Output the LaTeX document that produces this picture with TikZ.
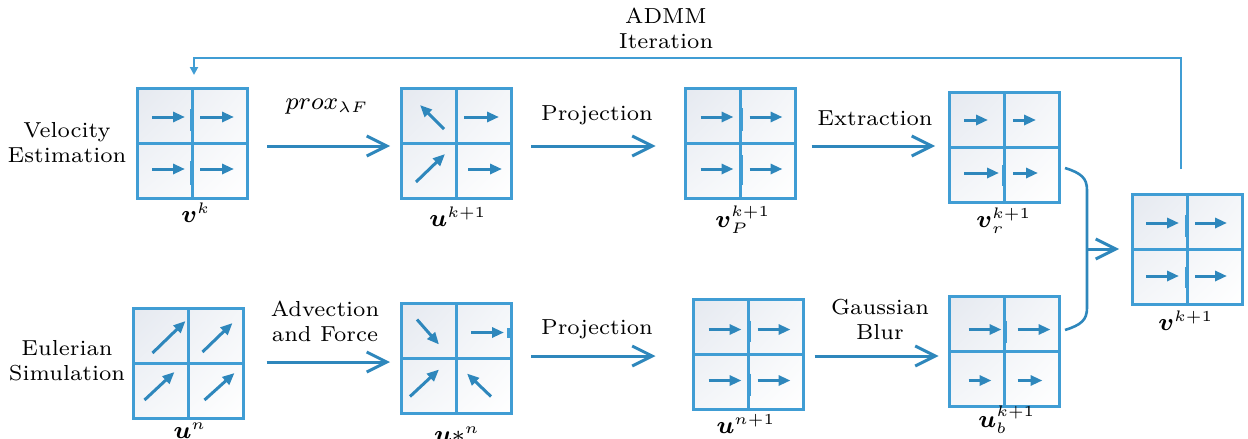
\documentclass[tikz,border=0pt]{standalone}
\usepackage{amsmath}
\usepackage{graphicx}
\usetikzlibrary{arrows.meta,shadings}
\DeclareMathSizes{8}{8}{3.8}{3.8}
\definecolor{boxblue}{RGB}{64,157,212}
\definecolor{arrblue}{RGB}{46,135,188}
\definecolor{cellgray}{RGB}{229,233,240}
\definecolor{cellmid}{RGB}{244,246,249}
\tikzset{
  gbox/.style={draw=boxblue, line width=3pt, minimum width=110pt, minimum height=110pt,
    inner sep=0pt, outer sep=0pt, upper left=cellgray, upper right=cellmid,
    lower left=cellmid, lower right=white},
  crossline/.style={draw=boxblue, line width=3pt},
  thickbar/.style={draw=boxblue, line width=4pt},
  cellarr/.style={draw=arrblue, line width=3pt, -{Triangle[length=12pt,width=10pt]}},
  mainarr/.style={draw=arrblue, line width=3pt, -{Straight Barb[length=20pt,width=20pt]}},
  bracketline/.style={draw=arrblue, line width=2.6pt},
  loopline/.style={draw=boxblue, line width=2pt, -{Triangle[length=8pt,width=8pt]}},
  lbl/.style={inner sep=0pt, outer sep=0pt},
  mlbl/.style={inner sep=0pt, outer sep=0pt, anchor=base},
}
\newcommand\T[1]{\scalebox{3.1}{\fontsize{7}{8.1}\selectfont\begin{tabular}{@{}c@{}}#1\end{tabular}}}
\newcommand\M[1]{\scalebox{3.05}{\fontsize{8}{10}\selectfont$#1$}}
\newcommand\gridnode[3]{%
  \node[gbox] (#1) at (#2,#3) {};
  \draw[crossline] (#1.north) -- (#1.south) (#1.west) -- (#1.east);}
\newcommand\carr[5]{\draw[cellarr] ([shift={(#2,#3)}]#1.center) -- ([shift={(#4,#5)}]#1.center);}
\newcommand\cbar[4]{\draw[thickbar] ([shift={(#2,#3)}]#1.center) -- ([shift={(#2,#4)}]#1.center);}
\begin{document}
\begin{tikzpicture}[x=1pt,y=-1pt]
\useasboundingbox (0,0) rectangle (1248,439);

% ---------- grids ----------
\gridnode{vk}{192}{143}
\gridnode{uk}{456}{143}
\gridnode{vp}{740.5}{143}
\gridnode{vr}{1004}{147}
\gridnode{vn}{1187}{249}
\gridnode{un}{188.5}{363}
\gridnode{us}{456}{358.5}
\gridnode{un1}{748.5}{354.5}
\gridnode{ub}{1004.5}{351.5}

% v^k
\carr{vk}{-40}{-26}{-7}{-26}\carr{vk}{8}{-26}{42}{-26}
\carr{vk}{-40}{26}{-7}{26}\carr{vk}{8}{26}{42}{26}
\cbar{vk}{0}{-34}{-12}\cbar{vk}{0}{18}{42}
% u^{k+1}
\carr{uk}{-12}{-14}{-36}{-38}\carr{uk}{8}{-26}{43}{-26}
\carr{uk}{-40}{39}{-11}{11}\carr{uk}{12}{26}{46}{26}
% v_P
\carr{vp}{-40}{-26}{-7}{-26}\carr{vp}{9}{-26}{42}{-26}
\carr{vp}{-40}{26}{-7}{26}\carr{vp}{9}{26}{42}{26}
\cbar{vp}{0}{-35}{-12}\cbar{vp}{0}{12}{42}
% v_r
\carr{vr}{-40}{-27}{-16}{-27}\carr{vr}{9}{-27}{32}{-27}
\carr{vr}{-40}{26}{-5}{26}\carr{vr}{9}{26}{34}{26}
\cbar{vr}{0}{18}{39}
% v^{k+1}
\carr{vn}{-41}{-26}{-8}{-26}\carr{vn}{8}{-26}{40}{-26}
\carr{vn}{-41}{27}{-8}{27}\carr{vn}{8}{27}{40}{27}
\cbar{vn}{0}{-34}{-12}\cbar{vn}{0}{18}{39}
% u^n
\carr{un}{-36}{-10}{-3}{-42}\carr{un}{14}{-11}{44}{-40}
\carr{un}{-44}{37}{-14}{9}\carr{un}{16}{37}{46}{10}
% u*^n
\carr{us}{-39}{-39}{-17}{-14}\carr{us}{15}{-26}{48}{-26}
\carr{us}{-46}{38}{-17}{11}\carr{us}{35}{38}{11}{15}
\cbar{us}{53}{-31}{-21}
% u^{n+1}
\carr{un1}{-40}{-25}{-7}{-25}\carr{un1}{9}{-25}{42}{-25}
\carr{un1}{-40}{26}{-7}{26}\carr{un1}{9}{26}{42}{26}
\cbar{un1}{0}{-34}{-13}\cbar{un1}{0}{19}{41}
% u_b
\carr{ub}{-36}{-22}{-3}{-22}\carr{ub}{13}{-22}{46}{-22}
\carr{ub}{-36}{29}{-13}{29}\carr{ub}{13}{29}{38}{29}
\cbar{ub}{0}{-31}{-9}

% ---------- main connectors ----------
\draw[mainarr] ([shift={(20,3)}]vk.east) -- ([shift={(-11,3)}]uk.west);
\draw[mainarr] ([shift={(20,3)}]uk.east) -- ([shift={(-30,3)}]vp.west);
\draw[mainarr] ([shift={(16,3)}]vp.east) -- ([shift={(-14,-1)}]vr.west);
\draw[mainarr] ([shift={(23,-1)}]un.east) -- ([shift={(-11,3.5)}]us.west);
\draw[mainarr] ([shift={(20,-2.5)}]us.east) -- ([shift={(-38,1.5)}]un1.west);
\draw[mainarr] ([shift={(11,1.5)}]un1.east) -- ([shift={(-11,4.5)}]ub.west);

% bracket
\coordinate (bt) at ([shift={(6,21)}]vr.east);
\coordinate (bb) at ([shift={(5.5,-21.5)}]ub.east);
\coordinate (bm) at (1087,249);
\draw[bracketline] (bt) .. controls (1081,173) and (1087,178) .. (1087,190) -- (1087,308)
  .. controls (1087,320) and (1081,325) .. (bb);
\draw[mainarr] (bm) -- ([xshift=-13pt]vn.west);

% feedback loop
\coordinate (ls) at ([shift={(-6,-25)}]vn.north);
\coordinate (lc1) at (1181,58);
\coordinate (lc2) at (194,58);
\coordinate (le) at ([shift={(2,-13)}]vk.north);
\draw[loopline] (ls) -- (lc1) -- (lc2) -- (le);

% ---------- labels ----------
\node[lbl] (tve) at (67,145) {\T{Velocity\\Estimation}};
\node[lbl] (tes) at (67,363) {\T{Eulerian\\Simulation}};
\node[lbl] (tad) at (666,31) {\T{ADMM\\Iteration}};
\node[mlbl] (tpx) at (327,109) {\M{prox_{\lambda F}}};
\node[lbl] (tp1) at (597,115) {\T{Projection}};
\node[lbl] (tex) at (875,120) {\T{Extraction}};
\node[lbl] (taf) at (325,324) {\T{Advection\\and Force}};
\node[lbl] (tp2) at (597,329) {\T{Projection}};
\node[lbl] (tgb) at (880,322) {\T{Gaussian\\Blur}};

\node[mlbl] (lvk) at (196,222) {\M{\boldsymbol{v}^{k}}};
\node[mlbl] (luk) at (458,226) {\M{\boldsymbol{u}^{k+1}}};
\node[mlbl] (lvp) at (743,227) {\M{\boldsymbol{v}_{P}^{k+1}}};
\node[mlbl] (lvr) at (1004,227) {\M{\boldsymbol{v}_{r}^{k+1}}};
\node[mlbl] (lvn) at (1186,330) {\M{\boldsymbol{v}^{k+1}}};
\node[mlbl] (lun) at (190,438) {\M{\boldsymbol{u}^{n}}};
\node[mlbl] (lus) at (457,442) {\M{\boldsymbol{u}{\ast}^{n}}};
\node[mlbl] (lun1) at (746,433) {\M{\boldsymbol{u}^{n+1}}};
\node[mlbl] (lub) at (1007,427) {\M{\boldsymbol{u}_{b}^{k+1}}};
\end{tikzpicture}
\end{document}
